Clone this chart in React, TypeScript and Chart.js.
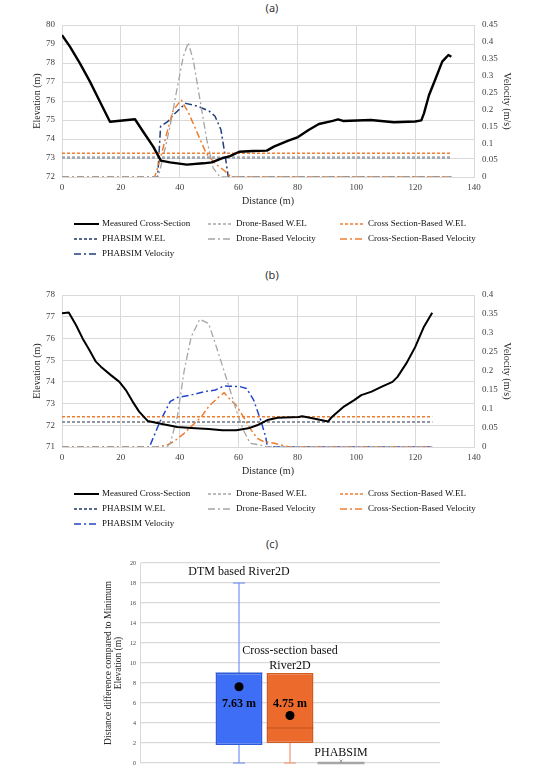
import React, { useEffect, useRef } from 'react';
import { Chart, registerables } from 'chart.js';
Chart.register(...registerables);

const SERIF = '"Liberation Serif", "Times New Roman", serif';

// ---------- Panel (a) ----------
const distA = [0, 2.7, 6.1, 9.5, 12.9, 16.3, 19.7, 24.8, 27.6, 31, 33.6, 36.7, 42.4, 48, 50.9, 54.3, 57.1, 60.2, 64.9, 69.6, 72, 76.7, 80.2, 83.8, 87.3, 92, 93.8, 95.5, 104.9, 112.8, 120, 122.1, 123, 124.7, 127, 129.2, 131.3, 132.3];
const elevA = [79.47, 78.86, 77.98, 77.02, 75.96, 74.91, 74.96, 75.04, 74.38, 73.6, 72.86, 72.77, 72.65, 72.72, 72.77, 72.98, 73.1, 73.33, 73.37, 73.39, 73.6, 73.9, 74.1, 74.47, 74.79, 74.95, 75.03, 74.95, 75.0, 74.88, 74.92, 74.98, 75.35, 76.3, 77.2, 78.07, 78.42, 78.33];
const welDistA = [0, 132.3];
const droneWelA = [73.02, 73.02];
const csWelA = [73.25, 73.25];
const phWelA = [73.02, 73.02];
const droneVelDistA = [0, 32.7, 34.4, 36.7, 39, 41.2, 42.9, 44.6, 46.9, 49.2, 51.4, 53.7, 132.3];
const droneVelA = [0, 0, 0.06, 0.149, 0.257, 0.356, 0.398, 0.346, 0.228, 0.11, 0.026, 0, 0];
const csVelDistA = [0, 31.5, 33.3, 35.6, 37.8, 40.5, 43, 46, 49, 52, 55, 57.5, 132.3];
const csVelA = [0, 0, 0.05, 0.129, 0.198, 0.228, 0.19, 0.13, 0.07, 0.04, 0.02, 0, 0];
const phVelDistA = [0, 32.5, 33.5, 36, 38, 42, 46, 50, 52, 54, 55.5, 56.5, 132.3];
const phVelA = [0, 0, 0.15, 0.165, 0.185, 0.218, 0.21, 0.195, 0.18, 0.14, 0.06, 0, 0];

// ---------- Panel (b) ----------
const distB = [0, 2.3, 4.75, 7, 9.3, 11.5, 13.2, 16.6, 19.5, 21.7, 24, 26.2, 29.1, 34.4, 39.2, 43.9, 49.8, 54.5, 59.2, 63.3, 66.3, 69.8, 73.3, 80.4, 81.6, 85.1, 90.4, 91.6, 95.8, 99.3, 101.7, 105.2, 108.7, 112.3, 114, 117, 120, 123, 125.8];
const elevB = [77.16, 77.19, 76.62, 76.0, 75.47, 74.93, 74.7, 74.31, 74.0, 73.62, 73.09, 72.63, 72.2, 72.05, 71.92, 71.88, 71.83, 71.77, 71.77, 71.86, 72.0, 72.24, 72.35, 72.38, 72.42, 72.32, 72.17, 72.37, 72.86, 73.16, 73.39, 73.55, 73.78, 74.0, 74.23, 74.85, 75.6, 76.54, 77.18];
const welDistB = [0, 125.8];
const droneWelB = [72.15, 72.15];
const csWelB = [72.39, 72.39];
const phWelB = [72.15, 72.15];
const droneVelDistB = [0, 35.6, 36.8, 39.2, 41.5, 43.9, 46.8, 49.8, 52.1, 55.7, 59.2, 61.6, 63.9, 67.5, 69.8, 125.8];
const droneVelB = [0, 0, 0.01, 0.08, 0.2, 0.29, 0.336, 0.325, 0.272, 0.185, 0.097, 0.045, 0.01, 0.005, 0, 0];
const csVelDistB = [0, 32.1, 35.6, 38, 41.5, 45, 47.4, 49.8, 52.7, 55.1, 56.8, 59.2, 61.6, 63.9, 66.3, 68.6, 72.2, 75.7, 77.5, 125.8];
const csVelB = [0, 0, 0.005, 0.014, 0.036, 0.062, 0.08, 0.106, 0.128, 0.143, 0.128, 0.11, 0.08, 0.049, 0.023, 0.014, 0.01, 0.003, 0, 0];
const phVelDistB = [0, 29.7, 33.3, 36.8, 39.2, 43.9, 48.6, 52.1, 55.1, 56.8, 60.4, 62.7, 65.1, 67.5, 69.2, 69.8, 125.8];
const phVelB = [0, 0, 0.067, 0.12, 0.13, 0.137, 0.146, 0.15, 0.161, 0.16, 0.159, 0.154, 0.124, 0.071, 0.027, 0, 0];

const legendNames = ['Measured Cross-Section', 'Drone-Based W.EL', 'Cross Section-Based W.EL', 'PHABSIM W.EL', 'Drone-Based Velocity', 'Cross-Section-Based Velocity', 'PHABSIM Velocity'];

// ---------- Panel (c) ----------
const boxGroups = ['DTM based River2D', 'Cross-section based\nRiver2D', 'PHABSIM'];
const boxMin = [0, 0, 0];
const boxQ1 = [1.8, 2, 0];
const boxMedian = [9, 3.5, 0];
const boxQ3 = [9, 9, 0];
const boxMax = [18, 9, 0];
const boxMean = [7.63, 4.75, 0];
const meanLabels = ['7.63 m', '4.75 m', ''];

const GRAY = '#a5a5a5';
const ORANGE = '#ed7d31';
const NAVY = '#1f3864';
const GRID = '#d9d9d9';
const WEL_DASH = [3, 2];
const VEL_DASH = [7, 3, 2, 3];

const pts = (xs: number[], ys: number[]) => xs.map((x, i) => ({ x, y: ys[i] }));

const gridLegend = {
  id: 'gridLegend',
  afterDraw(chart: any) {
    const ctx = chart.ctx;
    const colX = [74, 208, 340];
    const rowY0 = 224;
    const rowH = 15;
    ctx.save();
    chart.data.datasets.forEach((ds: any, i: number) => {
      const x = colX[i % 3];
      const y = rowY0 + Math.floor(i / 3) * rowH;
      ctx.beginPath();
      ctx.strokeStyle = ds.borderColor;
      ctx.lineWidth = Math.min(ds.borderWidth, 2);
      ctx.setLineDash(ds.borderDash || []);
      ctx.moveTo(x, y);
      ctx.lineTo(x + 25, y);
      ctx.stroke();
      ctx.setLineDash([]);
      ctx.fillStyle = '#111';
      ctx.font = `9px ${SERIF}`;
      ctx.textBaseline = 'middle';
      ctx.textAlign = 'left';
      ctx.fillText(ds.label, x + 28, y);
    });
    ctx.restore();
  },
};

function lineConfig(d: any): any {
  const tickFont = { family: SERIF, size: 9 };
  const titleFont = { family: SERIF, size: 10 };
  const ds = (label: string, xs: number[], ys: number[], color: string, width: number, dash: number[], axis: string) => ({
    label, data: pts(xs, ys), borderColor: color, borderWidth: width, borderDash: dash, yAxisID: axis,
    pointRadius: 0, tension: 0, fill: false, borderJoinStyle: 'round',
  });
  return {
    type: 'line',
    data: {
      datasets: [
        ds(legendNames[0], d.dist, d.elev, '#000', d.mw, [], 'y'),
        ds(legendNames[1], d.welDist, d.droneWel, GRAY, 1.5, WEL_DASH, 'y'),
        ds(legendNames[2], d.welDist, d.csWel, ORANGE, 1.5, WEL_DASH, 'y'),
        ds(legendNames[3], d.welDist, d.phWel, NAVY, 1.5, WEL_DASH, 'y'),
        ds(legendNames[4], d.droneVelDist, d.droneVel, GRAY, 1.3, VEL_DASH, 'y1'),
        ds(legendNames[5], d.csVelDist, d.csVel, ORANGE, 1.5, VEL_DASH, 'y1'),
        ds(legendNames[6], d.phVelDist, d.phVel, d.phVelColor, 1.5, VEL_DASH, 'y1'),
      ],
    },
    options: {
      responsive: false,
      animation: false,
      layout: { padding: { top: 25, bottom: 56, left: 0, right: 0 } },
      plugins: { legend: { display: false }, tooltip: { enabled: false } },
      scales: {
        x: {
          type: 'linear', min: 0, max: 140,
          ticks: { stepSize: 20, padding: 5, font: tickFont, color: '#404040' },
          grid: { color: GRID, drawTicks: false },
          border: { color: GRID },
          title: { display: true, text: 'Distance (m)', font: titleFont, color: '#262626', padding: { top: 0, bottom: 2 } },
          afterFit: (s: any) => { s.height = 32; },
        },
        y: {
          position: 'left', min: d.ymin, max: d.ymax,
          ticks: { stepSize: 1, padding: 7, font: tickFont, color: '#404040' },
          grid: { color: GRID, drawTicks: false },
          border: { color: GRID },
          title: { display: true, text: 'Elevation (m)', font: titleFont, color: '#262626', padding: { top: 31, bottom: 0 } },
          afterFit: (s: any) => { s.width = 62; },
        },
        y1: {
          position: 'right', min: 0, max: d.vmax,
          ticks: { stepSize: 0.05, padding: 8, font: tickFont, color: '#404040', callback: (v: number) => String(Number(v.toFixed(2))) },
          grid: { display: false, drawTicks: false },
          border: { color: GRID },
          title: { display: true, text: 'Velocity (m/s)', font: titleFont, color: '#262626', padding: { top: 31.5, bottom: 0 } },
          afterFit: (s: any) => { s.width = 70; },
        },
      },
    },
    plugins: [gridLegend],
  };
}

const boxFill = ['#3d6ef5', '#ec6a2c', '#a6a6a6'];
const boxEdge = ['#2f5bd6', '#cf5a22', '#a6a6a6'];
const whiskerColor = ['#7d9af2', '#f0a07c', '#a6a6a6'];
const medianColor = ['#2f5bd6', '#c0521a', '#a6a6a6'];

const boxDecor = {
  id: 'boxDecor',
  beforeDatasetsDraw(chart: any) {
    const ctx = chart.ctx;
    const y = chart.scales.y;
    ctx.save();
    chart.data.datasets.forEach((_: any, i: number) => {
      const bar = chart.getDatasetMeta(i).data[0];
      const cx = bar.x;
      ctx.strokeStyle = whiskerColor[i];
      ctx.lineWidth = 1.3;
      const segs: [number, number][] = [[boxQ3[i], boxMax[i]], [boxQ1[i], boxMin[i]]];
      segs.forEach(([a, b]) => {
        if (a === b) return;
        ctx.beginPath();
        ctx.moveTo(cx, y.getPixelForValue(a));
        ctx.lineTo(cx, y.getPixelForValue(b));
        ctx.stroke();
        ctx.beginPath();
        ctx.moveTo(cx - 6, y.getPixelForValue(b));
        ctx.lineTo(cx + 6, y.getPixelForValue(b));
        ctx.stroke();
      });
    });
    ctx.restore();
  },
  afterDatasetsDraw(chart: any) {
    const ctx = chart.ctx;
    const y = chart.scales.y;
    const nameAnchor = [19.1, 11.2, 1.0];
    ctx.save();
    chart.data.datasets.forEach((_: any, i: number) => {
      const bar = chart.getDatasetMeta(i).data[0];
      const cx = bar.x;
      const w = bar.width;
      // median
      ctx.strokeStyle = medianColor[i];
      ctx.lineWidth = boxQ1[i] === boxQ3[i] ? 2.5 : 1.2;
      ctx.beginPath();
      ctx.moveTo(cx - w / 2, y.getPixelForValue(boxMedian[i]));
      ctx.lineTo(cx + w / 2, y.getPixelForValue(boxMedian[i]));
      ctx.stroke();
      // mean marker
      const my = y.getPixelForValue(boxMean[i]);
      if (meanLabels[i]) {
        ctx.fillStyle = '#000';
        ctx.beginPath();
        ctx.arc(cx, my, 4.5, 0, Math.PI * 2);
        ctx.fill();
        ctx.font = `bold 12px ${SERIF}`;
        ctx.textAlign = 'center';
        ctx.textBaseline = 'middle';
        ctx.fillText(meanLabels[i], cx, y.getPixelForValue(5.9));
      } else {
        ctx.strokeStyle = '#8c8c8c';
        ctx.lineWidth = 0.8;
        ctx.beginPath();
        ctx.moveTo(cx - 1.5, my - 3.5); ctx.lineTo(cx + 1.5, my - 0.5);
        ctx.moveTo(cx + 1.5, my - 3.5); ctx.lineTo(cx - 1.5, my - 0.5);
        ctx.stroke();
      }
      // group name
      ctx.fillStyle = '#111';
      ctx.font = `12px ${SERIF}`;
      ctx.textAlign = 'center';
      ctx.textBaseline = 'middle';
      boxGroups[i].split('\n').forEach((line, k) => {
        ctx.fillText(line, cx, y.getPixelForValue(nameAnchor[i]) + k * 15);
      });
    });
    ctx.restore();
  },
};

function boxConfig(): any {
  return {
    type: 'bar',
    data: {
      labels: [''],
      datasets: boxGroups.map((g, i) => ({
        label: g,
        data: [[boxQ1[i], boxQ3[i]]],
        backgroundColor: boxFill[i],
        borderColor: boxEdge[i],
        borderWidth: 1.5,
        borderSkipped: false,
        categoryPercentage: 0.51,
        barPercentage: 0.92,
      })),
    },
    options: {
      responsive: false,
      animation: false,
      layout: { padding: { top: 13, bottom: 8, left: 0, right: 104 } },
      plugins: { legend: { display: false }, tooltip: { enabled: false } },
      scales: {
        x: { display: false },
        y: {
          min: 0, max: 20,
          ticks: { stepSize: 2, padding: 4, font: { family: SERIF, size: 6 }, color: '#404040' },
          grid: { color: GRID, drawTicks: false, lineWidth: 1.2 },
          border: { color: GRID },
          title: {
            display: true,
            text: ['Distance difference compared to Minimum', 'Elevation (m)'],
            font: { family: SERIF, size: 9.5, lineHeight: 1.1 },
            color: '#262626',
            padding: { top: 103, bottom: 0 },
          },
          afterFit: (s: any) => { s.width = 140; },
        },
      },
    },
    plugins: [boxDecor],
  };
}

function ChartCanvas({ config, top, height }: { config: () => any; top: number; height: number }) {
  const ref = useRef<HTMLCanvasElement>(null);
  useEffect(() => {
    const chart = new Chart(ref.current as HTMLCanvasElement, config());
    return () => chart.destroy();
  }, []);
  return (
    <canvas ref={ref} width={544} height={height}
      style={{ position: 'absolute', left: 0, top, width: 544, height }} />
  );
}

const panelLabel = (text: string, top: number, left: number) => (
  <div style={{ position: 'absolute', top, left: left - 20, width: 40, textAlign: 'center', font: '11px "Noto Sans", "Open Sans", sans-serif', color: '#333', lineHeight: '14px' }}>{text}</div>
);

export default function App() {
  const cfgA = () => lineConfig({
    dist: distA, elev: elevA, mw: 2.4, welDist: welDistA, droneWel: droneWelA, csWel: csWelA, phWel: phWelA,
    droneVelDist: droneVelDistA, droneVel: droneVelA, csVelDist: csVelDistA, csVel: csVelA,
    phVelDist: phVelDistA, phVel: phVelA, phVelColor: '#203f7a', ymin: 72, ymax: 80, vmax: 0.45,
  });
  const cfgB = () => lineConfig({
    dist: distB, elev: elevB, mw: 2, welDist: welDistB, droneWel: droneWelB, csWel: csWelB, phWel: phWelB,
    droneVelDist: droneVelDistB, droneVel: droneVelB, csVelDist: csVelDistB, csVel: csVelB,
    phVelDist: phVelDistB, phVel: phVelB, phVelColor: '#2346c8', ymin: 71, ymax: 78, vmax: 0.4,
  });
  return (
    <div style={{ position: 'absolute', left: 0, top: 0, width: 544, height: 771, background: '#fff' }}>
      {panelLabel('(a)', 1, 272)}
      <ChartCanvas config={cfgA} top={0} height={265} />
      {panelLabel('(b)', 268, 272)}
      <ChartCanvas config={cfgB} top={270} height={265} />
      {panelLabel('(c)', 537, 272)}
      <ChartCanvas config={boxConfig} top={550} height={221} />
    </div>
  );
}
